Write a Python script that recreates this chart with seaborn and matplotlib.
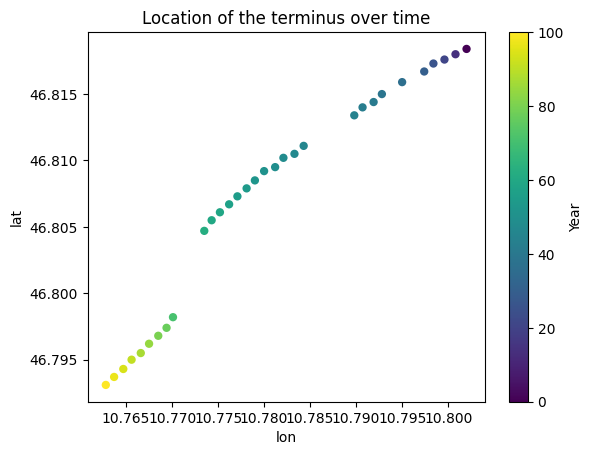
import numpy as np
import pandas as pd
import matplotlib
matplotlib.use("Agg")
import matplotlib.pyplot as plt
import seaborn as sns

# ----------------------------------------------------------
# Data
# ----------------------------------------------------------

lon = [10.7628, 10.7637, 10.7647, 10.7656, 10.7666, 10.7675, 10.7685, 10.7694, 10.7701,
       10.7735, 10.7743, 10.7752, 10.7762, 10.7771, 10.7781, 10.7790, 10.7800, 10.7812,
       10.7821, 10.7833, 10.7843,
       10.7898, 10.7907, 10.7919, 10.7928, 10.7950, 10.7974, 10.7984, 10.7996, 10.8008,
       10.8020]

lat = [46.7931, 46.7937, 46.7943, 46.7950, 46.7955, 46.7962, 46.7968, 46.7974, 46.7982,
       46.8047, 46.8055, 46.8061, 46.8067, 46.8073, 46.8079, 46.8085, 46.8092, 46.8095,
       46.8102, 46.8105, 46.8111,
       46.8134, 46.8140, 46.8144, 46.8150, 46.8159, 46.8167, 46.8173, 46.8176, 46.8180,
       46.8184]

year = [100, 97, 94, 91, 87, 84, 80, 77, 71,
        62, 60, 59, 57, 55, 54, 52, 51, 49, 48, 47, 46,
        44, 42, 41, 39, 36, 30, 26, 21, 14, 0]

df = pd.DataFrame({"lon": lon, "lat": lat, "Year": year})

# ----------------------------------------------------------
# Plot
# ----------------------------------------------------------

fig, ax = plt.subplots(figsize=(6.4, 4.8))

sns.scatterplot(
    data=df,
    x="lon",
    y="lat",
    hue="Year",
    palette="viridis",
    hue_norm=(0, 100),
    s=20,
    linewidth=1.5,
    edgecolor="face",
    legend=False,
    ax=ax
)

sm = plt.cm.ScalarMappable(cmap="viridis", norm=plt.Normalize(0, 100))
cbar = fig.colorbar(sm, ax=ax)
cbar.set_label("Year")

ax.set_title("Location of the terminus over time")
ax.set_xlabel("lon")
ax.set_ylabel("lat")

fig.savefig("out.png", dpi=100, bbox_inches="tight")
